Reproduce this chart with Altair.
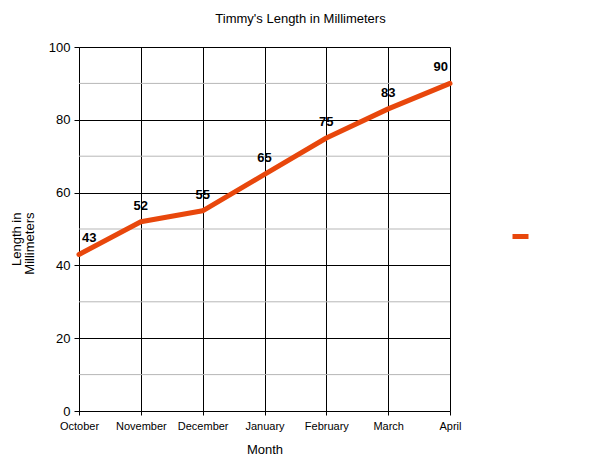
import altair as alt
import pandas as pd

months = ["October", "November", "December", "January", "February", "March", "April"]
lengths = [43, 52, 55, 65, 75, 83, 90]
major_ticks = [0, 20, 40, 60, 80, 100]
minor_ticks = [10, 30, 50, 70, 90]
series_name = "Length in Millimeters"

df = pd.DataFrame({"Month": months, "Length": lengths, "series": [series_name] * len(months)})
minor_df = pd.DataFrame({"v": minor_ticks})

FONT = "Liberation Sans"
LINE = "#e8470c"

yscale = alt.Scale(domain=[0, 100], nice=False, zero=True)
xscale = alt.Scale(type="point", padding=0)

y_axis = alt.Axis(
    title=["Length in", "Millimeters"], values=major_ticks, grid=True,
    gridColor="black", gridOpacity=1, domainColor="black", tickColor="black",
    tickSize=5, labelPadding=4, labelFont=FONT, labelFontSize=13, labelColor="black",
    titleFont=FONT, titleFontSize=13, titleFontWeight="normal", titleColor="black",
    titleAlign="right", titleY=165, titleX=-63, titleBaseline="middle",
    titleLineHeight=13,
)

x_enc = alt.X(
    "Month:N", sort=months, scale=xscale,
    axis=alt.Axis(
        title="Month", labelAngle=0, grid=True, gridColor="black", gridOpacity=1,
        domainColor="black", tickColor="black", tickSize=4, labelPadding=5,
        labelFont=FONT, labelFontSize=11, labelColor="black",
        titleFont=FONT, titleFontSize=13, titleFontWeight="normal", titleColor="black",
        titlePadding=12,
    ),
)

minor = alt.Chart(minor_df).mark_rule(color="#b7b7b7", strokeWidth=1).encode(
    y=alt.Y("v:Q", scale=yscale, axis=y_axis)
)

line = alt.Chart(df).mark_line(strokeWidth=5, strokeCap="round", strokeJoin="round").encode(
    x=x_enc,
    y=alt.Y("Length:Q", scale=yscale, axis=y_axis),
    color=alt.Color(
        "series:N", scale=alt.Scale(range=[LINE]),
        legend=alt.Legend(
            title=None, labelExpr="''", symbolType="stroke", symbolStrokeWidth=5,
            symbolSize=256, orient="none", legendX=431, legendY=179,
        ),
    ),
)

label_base = alt.Chart(df).encode(
    x=alt.X("Month:N", sort=months, scale=xscale),
    y=alt.Y("Length:Q", scale=yscale),
    text="Length:Q",
)
text_kw = dict(font=FONT, fontSize=13, fontWeight="bold", color="black", baseline="middle", dy=-16)
labels_mid = label_base.transform_filter(
    (alt.datum.Month != months[0]) & (alt.datum.Month != months[-1])
).mark_text(align="center", **text_kw)
label_first = label_base.transform_filter(alt.datum.Month == months[0]).mark_text(
    align="left", dx=3, **text_kw
)
label_last = label_base.transform_filter(alt.datum.Month == months[-1]).mark_text(
    align="right", dx=-2, **text_kw
)

chart = alt.layer(minor, line, labels_mid, label_first, label_last).properties(
    width=371,
    height=364,
    autosize=alt.AutoSizeParams(type="none"),
    padding={"left": 71, "top": 39, "right": 120, "bottom": 44},
    title=alt.Title(
        "Timmy's Length in Millimeters", font=FONT, fontSize=13, fontWeight="normal",
        color="black", anchor="middle", dx=36, offset=15,
    ),
).configure_view(stroke=None).configure_axis(labelFont=FONT)

chart.save("out.html", embed_options={"renderer": "svg", "actions": False})
